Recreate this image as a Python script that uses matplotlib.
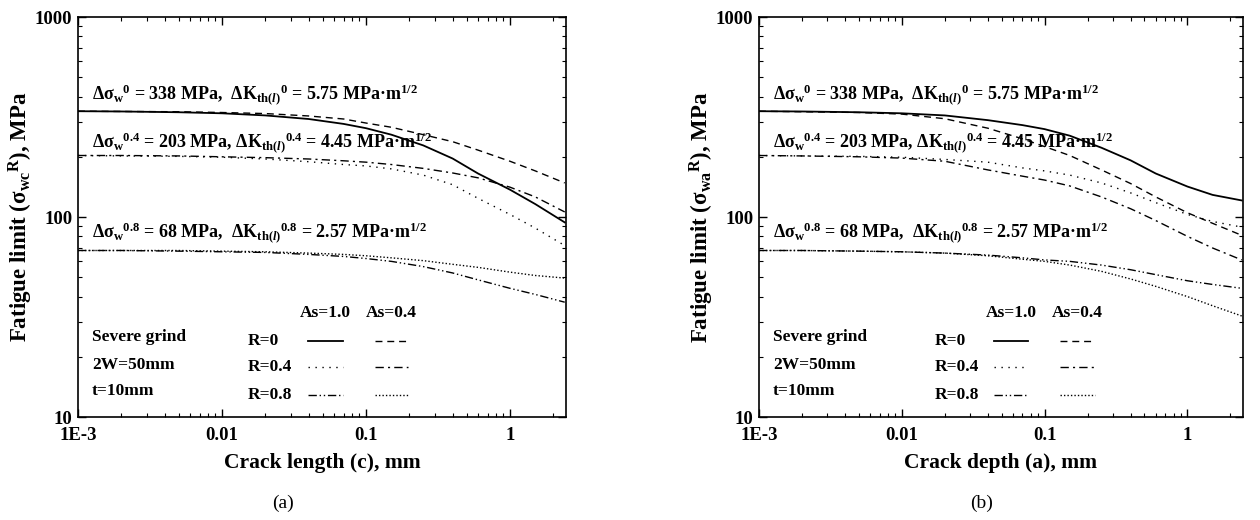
import matplotlib
matplotlib.use('Agg')
import matplotlib.pyplot as plt
from matplotlib.ticker import FixedLocator, FixedFormatter, LogLocator, NullFormatter

plt.rcParams['font.family'] = ['Liberation Serif', 'DejaVu Serif']
plt.rcParams['font.weight'] = 'bold'
plt.rcParams['axes.labelweight'] = 'bold'
plt.rcParams['mathtext.fontset'] = 'custom'
plt.rcParams['mathtext.rm'] = 'Liberation Serif:bold'
plt.rcParams['mathtext.it'] = 'Liberation Serif:italic:bold'
plt.rcParams['mathtext.bf'] = 'Liberation Serif:bold'

# crack size, mm
x = [0.001, 0.002, 0.005, 0.01, 0.02, 0.04, 0.07, 0.1, 0.15, 0.25, 0.4, 0.6, 1.0, 1.5, 2.4]

# (a) fatigue limit vs crack length, MPa
c_r0_as10 = [338, 337, 334, 330, 322, 309, 292, 278, 258, 228, 196, 165, 137, 116, 94]
c_r0_as04 = [338, 337, 336, 333, 329, 320, 309, 295, 281, 258, 238, 216, 190, 170, 148]
c_r04_as10 = [203, 202, 201, 199, 195, 189, 183, 180, 174, 162, 145, 124, 103, 88, 72]
c_r04_as04 = [203, 203, 202, 200, 198, 195, 191, 188, 183, 175, 166, 157, 141, 126, 106]
c_r08_as10 = [68, 68, 67.5, 67, 66.5, 65, 63.5, 62, 60, 56.5, 52.5, 48.5, 44, 41, 37.5]
c_r08_as04 = [68, 68, 68, 67.5, 67, 66, 65, 64, 62.5, 60.5, 58, 56, 53, 51, 49.5]

# (b) fatigue limit vs crack depth, MPa
a_r0_as10 = [338, 337, 334, 330, 322, 305, 288, 275, 255, 222, 192, 165, 142, 129, 121]
a_r0_as04 = [338, 336, 333, 327, 310, 278, 246, 225, 203, 172, 147, 126, 105, 93, 81]
a_r04_as10 = [203, 202, 201, 199, 194, 188, 176, 170, 162, 148, 132, 118, 103, 95, 89]
a_r04_as04 = [203, 202, 200, 197, 190, 172, 160, 153, 143, 126, 110, 96, 80, 70, 61]
a_r08_as10 = [68, 68, 67.5, 67, 66, 64.5, 62.5, 61, 60, 57.5, 54.5, 51.5, 48, 46, 44]
a_r08_as04 = [68, 68, 67.5, 67, 66, 64, 61.5, 60, 57.5, 53.5, 49, 45, 40, 36, 32]

r_labels = ['R=0', 'R=0.4', 'R=0.8']
as_labels = ['As=1.0', 'As=0.4']
notes = ['Severe grind', '2W=50mm', 't=10mm']
params = [
    'Δσ$_{\\rm w}$$^{\\rm 0}$ = 338 MPa,  ΔK$_{\\rm th(\\mathit{l})}$$^{\\rm 0}$ = 5.75 MPa·m$^{\\rm 1/2}$',
    'Δσ$_{\\rm w}$$^{\\rm 0.4}$ = 203 MPa, ΔK$_{\\rm th(\\mathit{l})}$$^{\\rm 0.4}$ = 4.45 MPa·m$^{\\rm 1/2}$',
    'Δσ$_{\\rm w}$$^{\\rm 0.8}$ = 68 MPa,  ΔK$_{\\rm th(\\mathit{l})}$$^{\\rm 0.8}$ = 2.57 MPa·m$^{\\rm 1/2}$',
]

styles = {
    'r0_as10': dict(ls='-', lw=1.3),
    'r0_as04': dict(ls=(0, (5, 3.5)), lw=1.0),
    'r04_as10': dict(ls=(0, (1, 4)), lw=1.0),
    'r04_as04': dict(ls=(0, (6, 3, 1.5, 3)), lw=1.0),
    'r08_as10': dict(ls=(0, (6, 2, 1, 2, 1, 2)), lw=1.0),
    'r08_as04': dict(ls=(0, (1, 1.5)), lw=1.0),
}

fig = plt.figure(figsize=(12.6, 5.2), dpi=100)
ax1 = fig.add_axes([78 / 1260, 103 / 520, 488 / 1260, 400 / 520])
ax2 = fig.add_axes([759 / 1260, 103 / 520, 484 / 1260, 400 / 520])


def setup(ax, xlabel, ylabel, tag, tagx):
    ax.set_xscale('log')
    ax.set_yscale('log')
    ax.set_xlim(1e-3, 2.45)
    ax.set_ylim(10, 1000)
    ax.xaxis.set_major_locator(FixedLocator([1e-3, 1e-2, 1e-1, 1]))
    ax.xaxis.set_major_formatter(FixedFormatter(['1E-3', '0.01', '0.1', '1']))
    ax.yaxis.set_major_locator(FixedLocator([10, 100, 1000]))
    ax.yaxis.set_major_formatter(FixedFormatter(['10', '100', '1000']))
    ax.xaxis.set_minor_locator(LogLocator(base=10, subs=range(2, 10), numticks=20))
    ax.yaxis.set_minor_locator(LogLocator(base=10, subs=range(2, 10), numticks=20))
    ax.xaxis.set_minor_formatter(NullFormatter())
    ax.yaxis.set_minor_formatter(NullFormatter())
    ax.tick_params(which='both', direction='in', top=True, right=True, labelsize=13.5)
    ax.tick_params(axis='x', which='major', pad=7)
    ax.tick_params(axis='y', which='major', pad=4)
    ax.tick_params(which='major', length=6, width=1)
    ax.tick_params(which='minor', length=3, width=0.8)
    for s in ax.spines.values():
        s.set_linewidth(1.2)
    ax.set_xlabel(xlabel, fontsize=15.5, labelpad=7)
    ax.set_ylabel(ylabel, fontsize=16.5, labelpad=0)
    ax.text(tagx, -0.215, tag, transform=ax.transAxes, ha='center', va='center',
            fontsize=14, fontweight='normal')


def draw(ax, curves, legx):
    for key, yv in curves.items():
        ax.plot(x, yv, color='black', **styles[key])
    for t, yy in zip(params, [0.805, 0.685, 0.46]):
        ax.text(0.029, yy, t, transform=ax.transAxes, fontsize=13, va='center')
    for t, yy in zip(notes, [0.2, 0.13, 0.065]):
        ax.text(0.029, yy, t, transform=ax.transAxes, fontsize=12.5, va='center')
    rx, c1, c2 = legx
    ax.text((c1[0] + c1[1]) / 2, 0.26, as_labels[0], transform=ax.transAxes,
            fontsize=12.5, ha='center', va='center')
    ax.text((c2[0] + c2[1]) / 2, 0.26, as_labels[1], transform=ax.transAxes,
            fontsize=12.5, ha='center', va='center')
    rows = [('r0_as10', 'r0_as04'), ('r04_as10', 'r04_as04'), ('r08_as10', 'r08_as04')]
    for lab, (k1, k2), yy in zip(r_labels, rows, [0.19, 0.125, 0.055]):
        ax.text(rx, yy, lab, transform=ax.transAxes, fontsize=12.5, va='center')
        ax.plot(c1, [yy, yy], color='black', transform=ax.transAxes, **styles[k1])
        ax.plot(c2, [yy, yy], color='black', transform=ax.transAxes, **styles[k2])


setup(ax1, 'Crack length (c), mm', 'Fatigue limit (σ$_{\\rm wc}$$^{\\rm R}$), MPa', '(a)', 0.42)
draw(ax1, {'r0_as10': c_r0_as10, 'r0_as04': c_r0_as04, 'r04_as10': c_r04_as10,
           'r04_as04': c_r04_as04, 'r08_as10': c_r08_as10, 'r08_as04': c_r08_as04},
     (0.348, (0.471, 0.543), (0.609, 0.676)))

setup(ax2, 'Crack depth (a), mm', 'Fatigue limit (σ$_{\\rm wa}$$^{\\rm R}$), MPa', '(b)', 0.46)
draw(ax2, {'r0_as10': a_r0_as10, 'r0_as04': a_r0_as04, 'r04_as10': a_r04_as10,
           'r04_as04': a_r04_as04, 'r08_as10': a_r08_as10, 'r08_as04': a_r08_as04},
     (0.364, (0.486, 0.556), (0.622, 0.694)))

fig.savefig('out.png', dpi=100)
